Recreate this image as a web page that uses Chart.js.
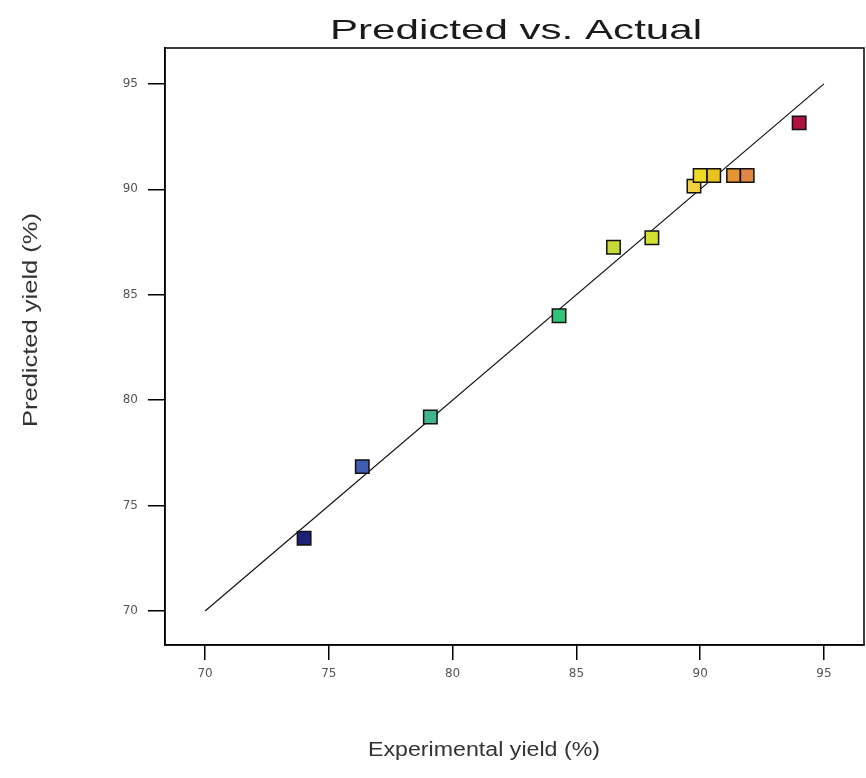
<!DOCTYPE html>
<html>
<head>
<meta charset="utf-8">
<script src="https://cdn.jsdelivr.net/npm/chart.js@4/dist/chart.umd.min.js"></script>
<style>
	html, body { margin: 0; padding: 0; background: #ffffff; }
	#wrap { width: 866px; height: 778px; }
</style>
</head>
<body>
<div id="wrap"><canvas id="chart" width="866" height="778"></canvas></div>
<script>
// experimental (actual) vs predicted yield
var actualList = [74.0, 76.35, 79.1, 84.3, 86.5, 88.05, 89.75, 90.0, 90.55, 91.35, 91.9, 94.0];
var predictedList = [73.45, 76.85, 79.2, 84.0, 87.25, 87.7, 90.15, 90.65, 90.65, 90.65, 90.65, 93.15];
var pointColors = ["#1f1f78", "#3f5cae", "#3fb68e", "#2fc477", "#c6d934", "#d3e02f",
	"#f1cf3e", "#f0db22", "#e8c221", "#e6952f", "#e08843", "#b0123f"];
// y = x reference line
var lineList = [70, 95];
var tickList = [70, 75, 80, 85, 90, 95];

var chartTitle = "Predicted vs. Actual";
var xTitle = "Experimental yield (%)";
var yTitle = "Predicted yield (%)";

var points = [];
for (var i in actualList) {
	points.push({ x: actualList[i], y: predictedList[i] });
}
var linePoints = [];
for (var i in lineList) {
	linePoints.push({ x: lineList[i], y: lineList[i] });
}

var fixedTicks = function (axis) {
	axis.ticks = tickList.map(function (v) { return { value: v }; });
};

var FONT = "'Liberation Sans', Arial, sans-serif";

// text stretched along its own direction to a given length (the picture is widened)
function drawFitted(ctx, text, cx, cy, length, size, angle) {
	ctx.save();
	ctx.font = size + "px " + FONT;
	var w = ctx.measureText(text).width;
	ctx.translate(cx, cy);
	ctx.rotate(angle);
	ctx.scale(length / w, 1);
	ctx.textAlign = "center";
	ctx.textBaseline = "middle";
	ctx.fillText(text, 0, 0);
	ctx.restore();
}

// frame + title texts
var framePlugin = {
	id: "frame",
	afterDraw: function (chart) {
		var ctx = chart.ctx;
		var a = chart.chartArea;
		ctx.save();
		ctx.strokeStyle = "#000";
		ctx.lineWidth = 1.5;
		ctx.strokeRect(a.left, a.top, a.right - a.left, a.bottom - a.top);

		ctx.fillStyle = "#1a1a1a";
		drawFitted(ctx, chartTitle, 516, 31, 372, 28, 0);

		ctx.fillStyle = "#333";
		drawFitted(ctx, xTitle, 484, 750, 232, 20, 0);
		drawFitted(ctx, yTitle, 31, 320, 214, 20, -Math.PI / 2);
		ctx.restore();
	}
};

var ctx = document.getElementById("chart").getContext("2d");
new Chart(ctx, {
	type: "scatter",
	data: {
		datasets: [
			{
				label: "Actual",
				data: points,
				pointStyle: "rect",
				pointRadius: 9.5,
				pointHoverRadius: 9.5,
				pointBackgroundColor: pointColors,
				pointBorderColor: "#111",
				pointBorderWidth: 1.5,
				order: 1
			},
			{
				label: "Line",
				data: linePoints,
				showLine: true,
				borderColor: "#111",
				borderWidth: 1.2,
				pointRadius: 0,
				fill: false,
				order: 2
			}
		]
	},
	options: {
		responsive: false,
		animation: false,
		layout: { autoPadding: false, padding: { top: 48, right: 2, left: 0, bottom: 0 } },
		plugins: {
			legend: { display: false },
			title: { display: false },
			tooltip: { enabled: false }
		},
		scales: {
			x: {
				type: "linear",
				min: 68.38,
				max: 96.62,
				afterBuildTicks: fixedTicks,
				afterFit: function (axis) {
					axis.height = 133;
					axis.paddingLeft = 0;
					axis.paddingRight = 0;
				},
				grid: { drawOnChartArea: false, color: "#000", tickLength: 15, lineWidth: 1.5 },
				border: { display: true, color: "#000", width: 1.5 },
				ticks: {
					color: "#555",
					padding: 7,
					font: { family: "'DejaVu Sans', sans-serif", size: 12 }
				}
			},
			y: {
				type: "linear",
				min: 68.39,
				max: 96.7,
				afterBuildTicks: fixedTicks,
				afterFit: function (axis) {
					axis.width = 165;
					axis.paddingTop = 0;
					axis.paddingBottom = 0;
				},
				grid: { drawOnChartArea: false, color: "#000", tickLength: 17, lineWidth: 1.5 },
				border: { display: true, color: "#000", width: 1.5 },
				ticks: {
					color: "#555",
					padding: 10,
					font: { family: "'DejaVu Sans', sans-serif", size: 12 }
				}
			}
		}
	},
	plugins: [framePlugin]
});
</script>
</body>
</html>
